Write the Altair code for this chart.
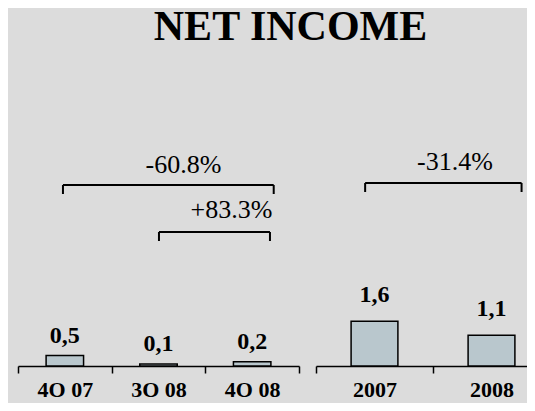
import altair as alt
import pandas as pd

# ---- data ----
title_text = "NET INCOME"
quarters = ["4O 07", "3O 08", "4O 08"]
quarter_values = [0.5, 0.1, 0.2]
quarter_labels = ["0,5", "0,1", "0,2"]
years = ["2007", "2008"]
year_values = [1.6, 1.1]
year_labels = ["1,6", "1,1"]
change_labels = ["-60.8%", "+83.3%", "-31.4%"]
change_from = ["4O 07", "3O 08", "2007"]
change_to = ["4O 08", "4O 08", "2008"]

FONT = "Liberation Serif"
W, H = 519, 358
BAR_FILL = "#b9c7cd"
BG = "#dcdcdc"


def axis():
    return alt.Axis(
        orient="bottom", title=None, labelAngle=0, tickBand="extent",
        domainColor="black", domainWidth=1.5, tickColor="black", tickWidth=1.5,
        tickSize=7, labelFont=FONT, labelFontSize=22, labelFontWeight="bold",
        labelColor="black", labelPadding=23, labelBaseline="alphabetic", grid=False,
    )


def panel(cats, vals, labels, rng, px_per_unit, label_dy, brackets):
    df = pd.DataFrame({"cat": cats, "value": vals, "label": labels})
    xs = alt.Scale(domain=cats, range=rng, paddingInner=0, paddingOuter=0)
    ys = alt.Scale(domain=[0, H / px_per_unit], nice=False, zero=True)
    base = alt.Chart(df)
    bars = base.mark_bar(
        width=alt.RelativeBandSize(0.4), fill=BAR_FILL, stroke="black", strokeWidth=1.5
    ).encode(
        x=alt.X("cat:N", scale=xs, sort=None, axis=axis()),
        y=alt.Y("value:Q", scale=ys, axis=None),
    )
    text = base.mark_text(
        font=FONT, fontSize=24, fontWeight="bold", baseline="alphabetic", dy=label_dy, color="black"
    ).encode(
        x=alt.X("cat:N", scale=xs, sort=None, axis=axis()),
        y=alt.Y("value:Q", scale=ys, axis=None),
        text="label:N",
    )
    layers = [bars, text]
    for (a, b, bl, br, yy) in brackets:
        bdf = pd.DataFrame({"a": [a], "b": [b]})
        bc = alt.Chart(bdf)
        layers.append(
            bc.mark_rule(color="black", strokeWidth=2).encode(
                x=alt.X("a:N", scale=xs, sort=None, bandPosition=bl, axis=axis()),
                x2=alt.X2("b:N", bandPosition=br),
                y=alt.value(yy),
            )
        )
        layers.append(
            bc.mark_rule(color="black", strokeWidth=2).encode(
                x=alt.X("a:N", scale=xs, sort=None, bandPosition=bl, axis=axis()),
                y=alt.value(yy), y2=alt.value(yy + 9),
            )
        )
        layers.append(
            bc.mark_rule(color="black", strokeWidth=2).encode(
                x=alt.X("b:N", scale=xs, sort=None, bandPosition=br, axis=axis()),
                y=alt.value(yy), y2=alt.value(yy + 9),
            )
        )
    return alt.layer(*layers)


left = panel(
    quarters, quarter_values, quarter_labels, [10, 291], 21, -13,
    [(change_from[0], change_to[0], 0.48, 0.73, 177),
     (change_from[1], change_to[1], 0.505, 0.69, 224)],
)
right = panel(
    years, year_values, year_labels, [308, 542], 28, -19,
    [(change_from[2], change_to[2], 0.42, 0.757, 175)],
)

title_df = pd.DataFrame({"t": [title_text]})
title = alt.Chart(title_df).mark_text(
    font=FONT, fontSize=42, fontWeight="bold", baseline="alphabetic", color="black"
).encode(x=alt.value(282.5), y=alt.value(32), text="t:N")

ann_x = [175.5, 223.5, 447]
ann_y = [165, 210, 162]
anns = []
for i, lab in enumerate(change_labels):
    anns.append(
        alt.Chart(pd.DataFrame({"label": [lab]})).mark_text(
            font=FONT, fontSize=26, baseline="alphabetic", color="black"
        ).encode(x=alt.value(ann_x[i]), y=alt.value(ann_y[i]), text="label:N")
    )

chart = alt.layer(title, *anns, left, right).resolve_scale(
    x="independent", y="independent"
).properties(
    width=W, height=H,
    autosize=alt.AutoSizeParams(type="none"),
    padding={"left": 0, "top": 0, "right": 0, "bottom": 37},
    background=BG,
).configure_view(stroke=None)

chart.save("out.html", embed_options={"renderer": "svg", "actions": False})
